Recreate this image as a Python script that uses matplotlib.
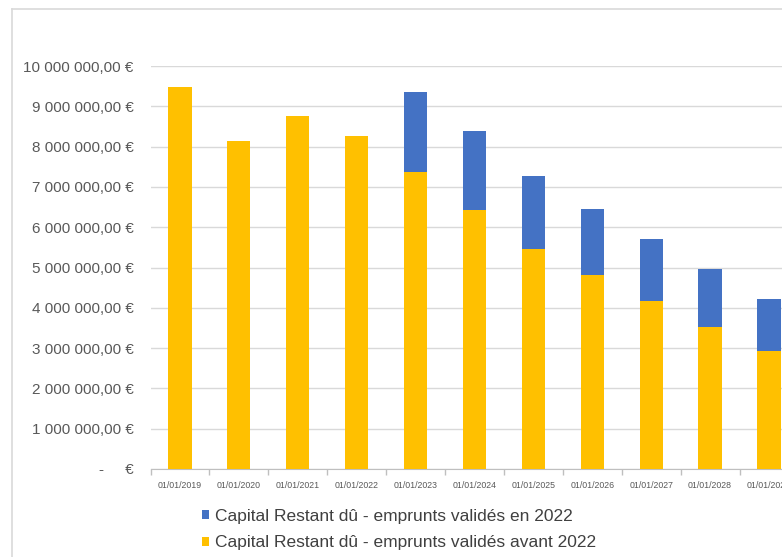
import matplotlib
matplotlib.use("Agg")
import matplotlib.pyplot as plt
from matplotlib.lines import Line2D
from matplotlib.ticker import FuncFormatter

# Capital restant dû au 1er janvier de chaque année
dates = ["01/01/2019", "01/01/2020", "01/01/2021", "01/01/2022", "01/01/2023",
         "01/01/2024", "01/01/2025", "01/01/2026", "01/01/2027", "01/01/2028",
         "01/01/2029"]
avant_2022 = [9.49e6, 8.15e6, 8.76e6, 8.26e6, 7.36e6, 6.43e6, 5.46e6, 4.81e6,
              4.16e6, 3.52e6, 2.94e6]
en_2022 = [0, 0, 0, 0, 1.99e6, 1.95e6, 1.82e6, 1.65e6, 1.55e6, 1.44e6, 1.27e6]

JAUNE = "#FFC000"
BLEU = "#4472C4"
GRIS_TXT = "#595959"

plt.rcParams["font.family"] = ["Liberation Sans", "DejaVu Sans"]

W, H = 782, 557
fig = plt.figure(figsize=(W / 100, H / 100), dpi=100)

# zone de tracé : l'axe déborde volontairement à droite
x0, x1 = 150.5, 150.5 + 11 * 58.9
y_top, y_bot = 66, 469
ax = fig.add_axes([x0 / W, (H - y_bot) / H, (x1 - x0) / W, (y_bot - y_top) / H])

x = range(len(dates))
ax.bar(x, avant_2022, width=0.395, color=JAUNE, zorder=3,
       label="Capital Restant dû - emprunts validés avant 2022")
ax.bar(x, en_2022, width=0.395, bottom=avant_2022, color=BLEU, zorder=3,
       label="Capital Restant dû - emprunts validés en 2022")

ax.set_xlim(-0.5, len(dates) - 0.5)
ax.set_ylim(0, 10e6)
ax.set_yticks([i * 1e6 for i in range(11)])


def euros(v, pos):
    if v == 0:
        return "-     €"
    s = f"{v:,.2f}".replace(",", " ").replace(".", ",")
    return s + " €"


ax.yaxis.set_major_formatter(FuncFormatter(euros))
ax.tick_params(axis="y", length=0, pad=12, labelsize=11, labelcolor=GRIS_TXT)
ax.grid(axis="y", color="#d9d9d9", linewidth=1, zorder=0)

ax.set_xticks(list(x))
ax.set_xticklabels(dates)
ax.set_xticks([i - 0.5 for i in range(len(dates) + 1)], minor=True)
ax.tick_params(axis="x", which="major", length=0, pad=9, labelsize=6.3,
               labelcolor=GRIS_TXT)
ax.tick_params(axis="x", which="minor", length=4, color="#bfbfbf", width=1)

for side in ["left", "right", "top"]:
    ax.spines[side].set_visible(False)
ax.spines["bottom"].set_color("#bfbfbf")

# légende : bleu en premier
h, l = ax.get_legend_handles_labels()
fig.legend([h[1], h[0]], [l[1], l[0]], loc="upper left",
           bbox_to_anchor=(186 / W, (H - 493) / H), frameon=False,
           fontsize=12.5, labelcolor="#404040", handlelength=0.45,
           handleheight=0.45, handletextpad=0.3, labelspacing=0.68)

# bordure du graphique
fig.add_artist(Line2D([12 / W, 12 / W], [-0.1, (H - 9) / H], color="#d9d9d9",
                      linewidth=1.2, transform=fig.transFigure))
fig.add_artist(Line2D([12 / W, 1.1], [(H - 9) / H, (H - 9) / H], color="#d9d9d9",
                      linewidth=1.2, transform=fig.transFigure))

fig.savefig("out.png", dpi=100)
